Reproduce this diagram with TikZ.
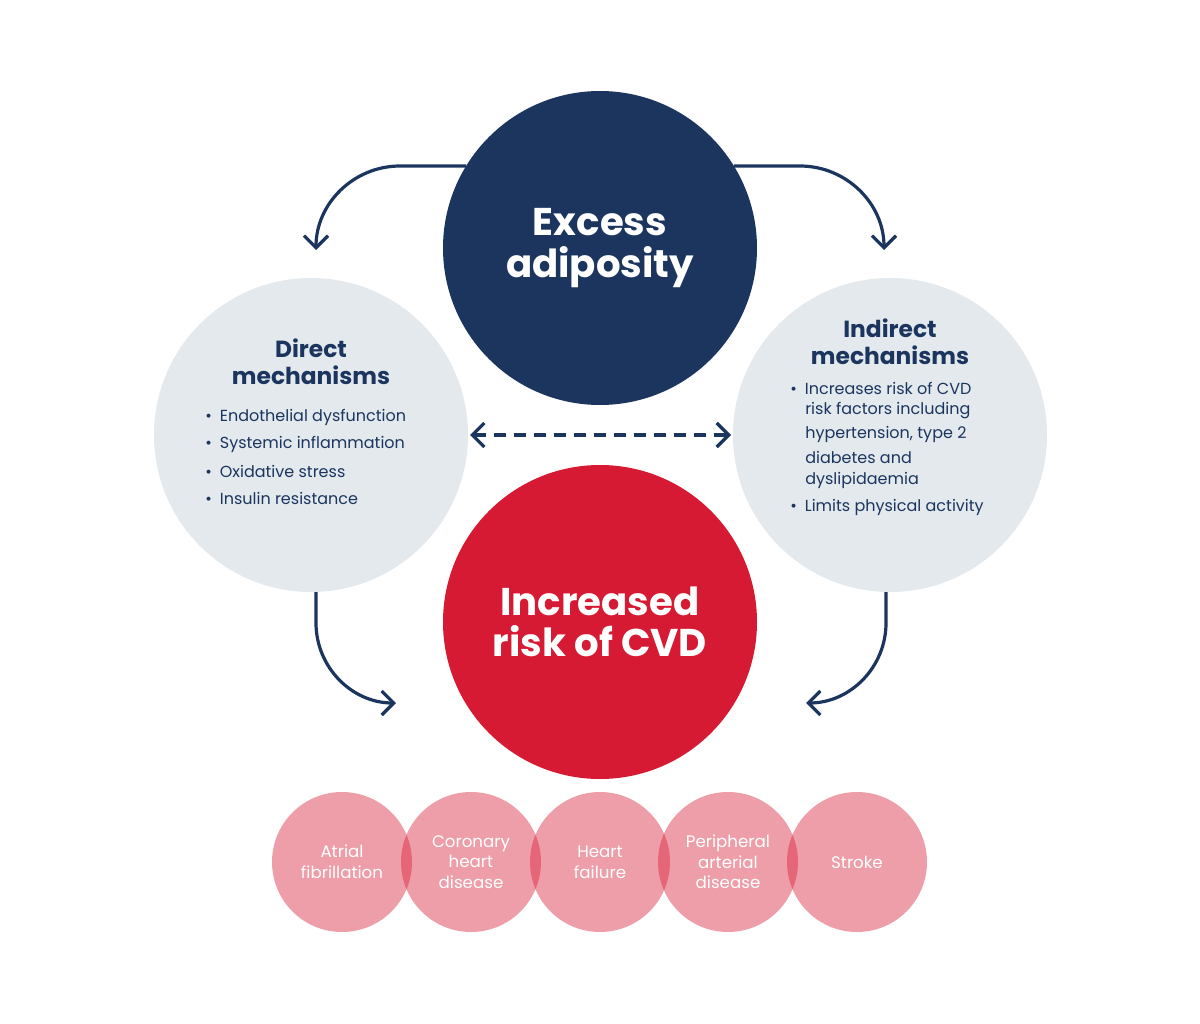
\documentclass[tikz,border=0pt]{standalone}
\usepackage{fontspec}
\setmainfont{Poppins}
\usetikzlibrary{arrows.meta}
\definecolor{navy}{HTML}{1C355E}
\definecolor{cred}{HTML}{D71A33}
\definecolor{lgrey}{HTML}{E3E9ED}
\begin{document}
\begin{tikzpicture}[x=0.75pt,y=-0.75pt,
  big/.style={circle,minimum size=314*0.75pt,inner sep=0pt},
  small/.style={circle,minimum size=140*0.75pt,inner sep=0pt,fill=cred,fill opacity=0.42,text opacity=1,text=white,align=center,font=\fontsize{12.5}{15.5}\selectfont},
  conn/.style={draw=navy,line width=2.4pt,-{Straight Barb[length=9pt,width=18pt,line width=2.4pt]}},
  ttl/.style={text=navy,font=\fontsize{17.5}{20}\selectfont\bfseries,align=center},
  bl/.style={text=navy,font=\fontsize{12}{14}\selectfont,anchor=west,inner sep=0pt}]
\useasboundingbox (0,0) rectangle (1200,1024);
\fill[white] (0,0) rectangle (1200,1024);
\node[big,fill=lgrey] (dir) at (311,435) {};
\node[big,fill=lgrey] (ind) at (890,435) {};
\node[big,fill=navy,text=white,font=\fontsize{29}{31}\selectfont\bfseries,align=center] (ex) at (600,248) {Excess\\adiposity};
\node[big,fill=cred,text=white,font=\fontsize{29}{31}\selectfont\bfseries,align=center] (cvd) at (600,622) {Increased\\risk of CVD};
% small circles
\node[small] (s1) at (342,862) {Atrial\\fibrillation};
\node[small] (s2) at (471,862) {Coronary\\heart\\disease};
\node[small] (s3) at (600,862) {Heart\\failure};
\node[small] (s4) at (728,862) {Peripheral\\arterial\\disease};
\node[small] (s5) at (857,862) {Stroke};
% titles
\node[ttl] (dt) at (311,362) {Direct\\mechanisms};
\node[ttl] (it) at (890,342) {Indirect\\mechanisms};
\foreach \t [count=\i] in {Endothelial dysfunction,Systemic inflammation,Oxidative stress,Insulin resistance}
  \node[bl] (d\i) at (205,390+27*\i) {•\hspace{6pt}\t};
\node[bl] (i1) at (790,388) {•\hspace{6pt}Increases risk of CVD};
\node[bl] (i2) at (805,411) {risk factors including};
\node[bl] (i3) at (805,434) {hypertension, type 2};
\node[bl] (i4) at (805,457) {diabetes and};
\node[bl] (i5) at (805,480) {dyslipidaemia};
\node[bl] (i6) at (790,507) {•\hspace{6pt}Limits physical activity};
% connectors
\coordinate (a1) at (466,166);
\coordinate (a2) at (734,166);
\coordinate (b1) at (316,592);
\coordinate (b2) at (886,592);
\draw[conn] (a1) -- (400,166) arc[start angle=-90,end angle=-180,radius=84];
\draw[conn] (a2) -- (800,166) arc[start angle=-90,end angle=0,radius=84];
\draw[conn] (b1) -- (316,623) arc[start angle=180,end angle=90,radius=80];
\draw[conn] (b2) -- (886,623) arc[start angle=0,end angle=90,radius=80];
\coordinate (m1) at (470,435); \coordinate (m2) at (731,435);
\draw[draw=navy,line width=2.4pt,dash pattern=on 9pt off 6pt,{Straight Barb[length=9pt,width=18pt,line width=2.4pt]}-{Straight Barb[length=9pt,width=18pt,line width=2.4pt]}] (m1) -- (m2);
\end{tikzpicture}
\end{document}
